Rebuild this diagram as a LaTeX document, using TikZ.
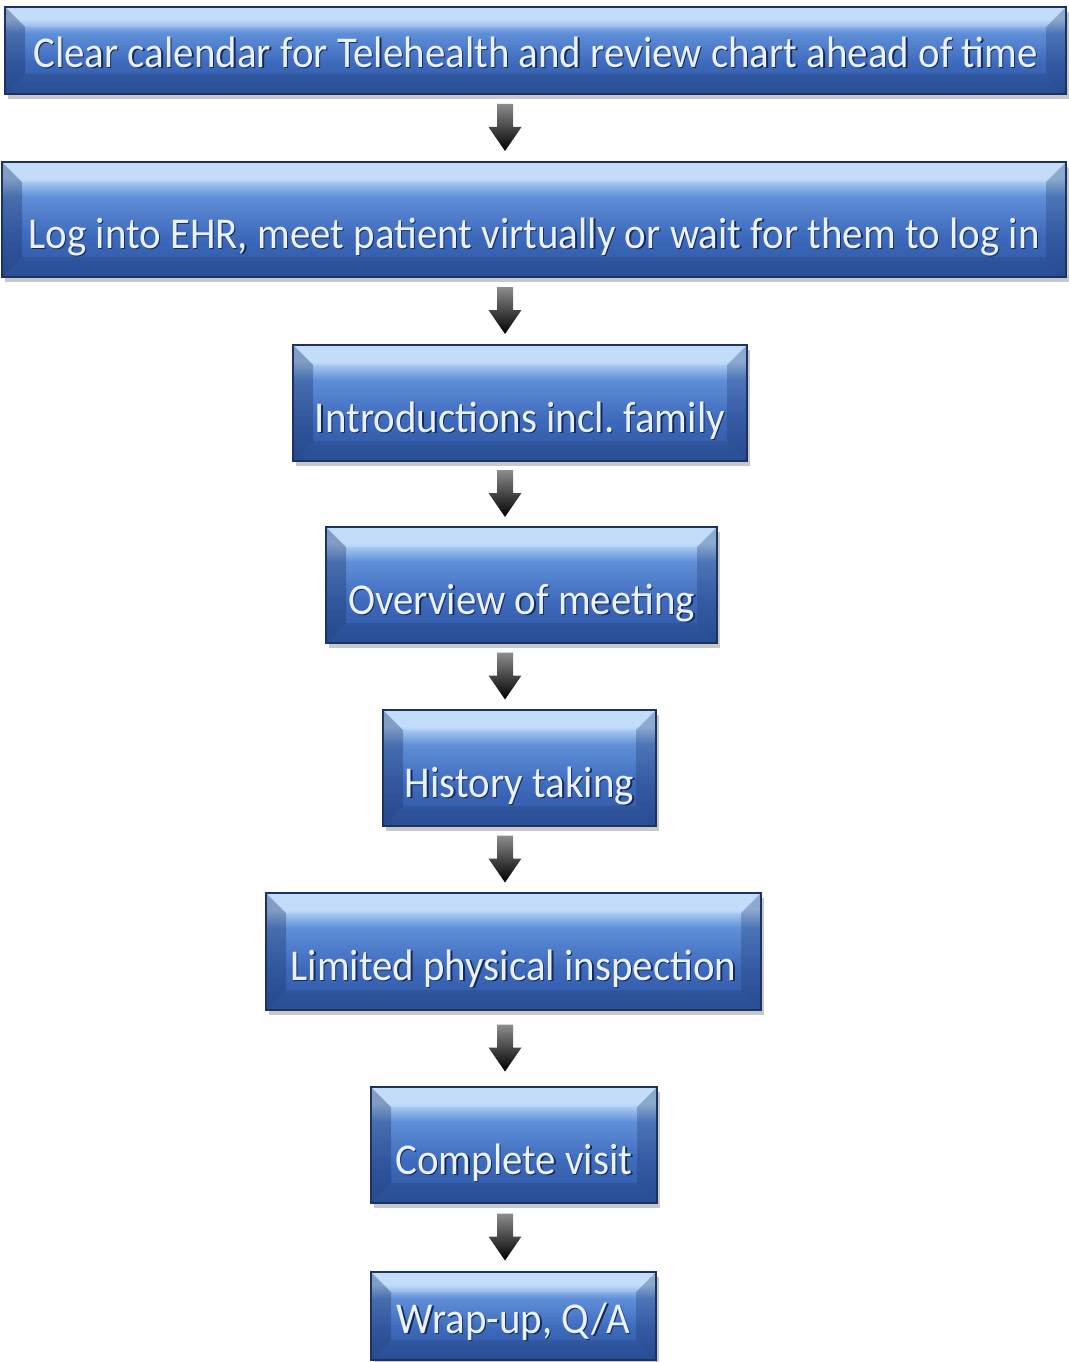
\documentclass[tikz,border=0pt]{standalone}
\usepackage{fontspec}
\setmainfont{Carlito}[FakeStretch=0.93]
\usetikzlibrary{calc,shadows}

\definecolor{boxline}{HTML}{1C3262}
\definecolor{bdark}{HTML}{2C56A2}
\definecolor{bmid}{HTML}{3E6ABC}
\definecolor{bmidtop}{HTML}{5F8FD8}
\definecolor{blight}{HTML}{B8D7F9}
\definecolor{txtlight}{HTML}{EAF2FF}
\definecolor{txtshade}{HTML}{15285A}

% vertical face shading of the step boxes; the box maps onto 25bp..75bp
\pgfdeclareverticalshading{boxshade}{100bp}{%
  color(0bp)=(bdark); color(25bp)=(bdark); color(43bp)=(bmid);
  color(60bp)=(bmidtop); color(68bp)=(blight); color(100bp)=(blight)}

% light text with a thin dark shadow behind it
\newcommand\glowtext[1]{\rlap{\kern1.3pt\raisebox{-1.3pt}{\color{txtshade}#1}}{\color{txtlight}#1}}

% block arrow between two steps, on a common vertical axis
\newcommand\blockarrow[2]{%
  \path[arrowshade] let \p1=($(#1.south)!0.5!(#2.north)$) in
    (505pt-8pt,\y1+24pt) -- (505pt+8pt,\y1+24pt) -- (505pt+8pt,\y1+1pt)
    -- (505pt+16.5pt,\y1+1pt) -- (505pt,\y1-23pt) -- (505pt-16.5pt,\y1+1pt)
    -- (505pt-8pt,\y1+1pt) -- cycle;}

\tikzset{
  stepbox/.style={draw=boxline, line width=1.3pt, shading=boxshade,
    inner sep=0pt, font=\fontsize{44}{48}\selectfont,
    drop shadow={shadow xshift=3pt, shadow yshift=-5pt, opacity=0.3, fill=black!70},
    path picture={
      \fill[white, opacity=0.15] (path picture bounding box.north west)
        -- (path picture bounding box.north east)
        -- ([shift={(-20pt,-20pt)}]path picture bounding box.north east)
        -- ([shift={(20pt,-20pt)}]path picture bounding box.north west) -- cycle;
      \fill[boxline, opacity=0.35] (path picture bounding box.north west)
        -- ([shift={(20pt,-20pt)}]path picture bounding box.north west)
        -- ([shift={(20pt,20pt)}]path picture bounding box.south west)
        -- (path picture bounding box.south west) -- cycle;
      \fill[boxline, opacity=0.28] (path picture bounding box.north east)
        -- ([shift={(-20pt,-20pt)}]path picture bounding box.north east)
        -- ([shift={(-20pt,20pt)}]path picture bounding box.south east)
        -- (path picture bounding box.south east) -- cycle;
      \fill[boxline, opacity=0.22] (path picture bounding box.south west)
        -- ([shift={(20pt,20pt)}]path picture bounding box.south west)
        -- ([shift={(-20pt,20pt)}]path picture bounding box.south east)
        -- (path picture bounding box.south east) -- cycle;
    }},
  tallbox/.style={stepbox, text height=58pt, text depth=0pt},
  flatbox/.style={stepbox, text height=34pt, text depth=0pt},
  arrowshade/.style={top color=black!45, bottom color=black}
}

\begin{document}
\frenchspacing
\begin{tikzpicture}[x=1pt,y=-1pt]
  \fill[white] (0,0) rectangle (1068,1362);
  \useasboundingbox (0,0) rectangle (1068,1362);

  \node[flatbox, minimum width=1061pt, minimum height=87pt] (b1) at (535.5,50.5)
    {\glowtext{Clear calendar for Telehealth and review chart ahead of time}};
  \node[tallbox, minimum width=1064pt, minimum height=115pt] (b2) at (534,219.5)
    {\glowtext{Log into EHR, meet patient virtually or wait for them to log in}};
  \node[tallbox, minimum width=454pt, minimum height=116pt] (b3) at (520,403)
    {\glowtext{Introductions incl. family}};
  \node[tallbox, minimum width=391pt, minimum height=116pt] (b4) at (521.5,585)
    {\glowtext{Overview of meeting}};
  \node[tallbox, minimum width=273pt, minimum height=116pt] (b5) at (519.5,768)
    {\glowtext{History taking}};
  \node[tallbox, minimum width=495pt, minimum height=117pt] (b6) at (513.5,951.5)
    {\glowtext{Limited physical inspection}};
  \node[tallbox, minimum width=286pt, minimum height=116pt] (b7) at (514,1145)
    {\glowtext{Complete visit}};
  \node[flatbox, minimum width=285pt, minimum height=88pt] (b8) at (513.5,1316)
    {\glowtext{Wrap-up, Q/A}};

  \blockarrow{b1}{b2}
  \blockarrow{b2}{b3}
  \blockarrow{b3}{b4}
  \blockarrow{b4}{b5}
  \blockarrow{b5}{b6}
  \blockarrow{b6}{b7}
  \blockarrow{b7}{b8}
\end{tikzpicture}
\end{document}
